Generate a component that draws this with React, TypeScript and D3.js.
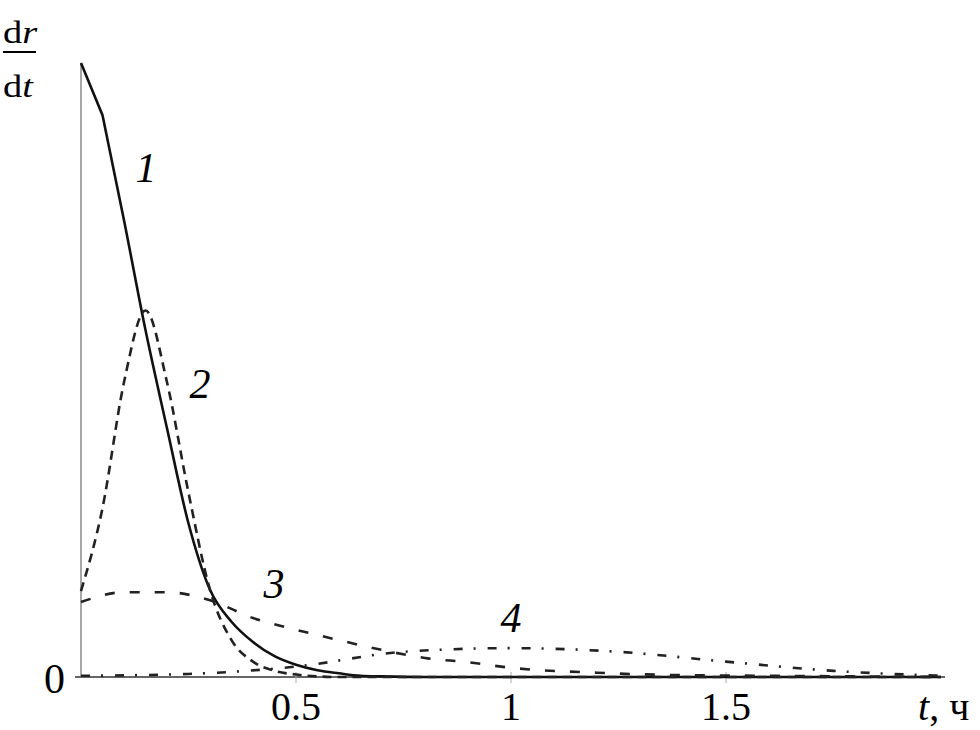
import React from "react";
import * as d3 from "d3";

// time grid (hours)
const tFine = [0, 0.05, 0.1, 0.15, 0.2, 0.25, 0.3, 0.35, 0.4, 0.45, 0.5, 0.55, 0.6, 0.65, 0.7, 0.8, 1.0, 1.5, 2.0];
const curve1 = [1.0, 0.915, 0.744, 0.565, 0.405, 0.25, 0.142, 0.09, 0.057, 0.034, 0.02, 0.011, 0.006, 0.002, 0.001, 0, 0, 0, 0];
const curve2 = [0.14, 0.275, 0.48, 0.597, 0.48, 0.3, 0.142, 0.06, 0.025, 0.01, 0.004, 0.001, 0, 0, 0, 0, 0, 0, 0];

const tMid = [0, 0.1, 0.2, 0.3, 0.4, 0.5, 0.6, 0.7, 0.8, 0.9, 1.0, 1.2, 1.4, 1.6, 1.8, 2.0];
const curve3 = [0.122, 0.138, 0.138, 0.125, 0.096, 0.077, 0.06, 0.044, 0.031, 0.024, 0.015, 0.007, 0.003, 0.002, 0.001, 0];

const tWide = [0, 0.25, 0.5, 0.75, 1.0, 1.25, 1.5, 1.75, 2.0];
const curve4 = [0.002, 0.005, 0.017, 0.041, 0.047, 0.041, 0.025, 0.01, 0.002];

const xTicks = [0.5, 1, 1.5];
const xTickLabels = ["0.5", "1", "1.5"];

const curveLabels = [
  { text: "1", t: 0.151, v: 0.806 },
  { text: "2", t: 0.277, v: 0.454 },
  { text: "3", t: 0.449, v: 0.129 },
  { text: "4", t: 1.0, v: 0.073 },
];

export default function App() {
  const W = 980, H = 730;
  const x = d3.scaleLinear().domain([0, 2]).range([81, 941]);
  const y = d3.scaleLinear().domain([0, 1]).range([677, 63]);
  const line = d3
    .line<[number, number]>()
    .x((d) => x(d[0]))
    .y((d) => y(d[1]))
    .curve(d3.curveMonotoneX);
  const linear = d3
    .line<[number, number]>()
    .x((d) => x(d[0]))
    .y((d) => y(d[1]));

  const p1 = tFine.map((t, i) => [t, curve1[i]] as [number, number]);
  const p2 = tFine.map((t, i) => [t, curve2[i]] as [number, number]);
  const p3 = tMid.map((t, i) => [t, curve3[i]] as [number, number]);
  const p4 = tWide.map((t, i) => [t, curve4[i]] as [number, number]);

  const serif = "'Liberation Serif', 'Times New Roman', serif";

  return (
    <svg
      width={W}
      height={H}
      style={{ position: "absolute", left: 0, top: 0, background: "#fff" }}
      fontFamily={serif}
    >
      {/* axes */}
      <line x1={x(0)} x2={x(0)} y1={y(1)} y2={y(0)} stroke="#8a8a8a" strokeWidth={1.5} />
      <line x1={x(0) - 6} x2={x(2) + 4} y1={y(0)} y2={y(0)} stroke="#666" strokeWidth={2} />
      {xTicks.map((t, i) => (
        <g key={t}>
          <line x1={x(t)} x2={x(t)} y1={y(0) - 5} y2={y(0) + 6} stroke="#aaa" strokeWidth={1} />
          <text x={x(t)} y={720} textAnchor="middle" fontSize={40} fill="#000">
            {xTickLabels[i]}
          </text>
        </g>
      ))}
      <text x={65} y={693} textAnchor="end" fontSize={42} fill="#000">0</text>

      {/* curves */}
      <path d={linear(p1.slice(0, 2)) + (line(p1.slice(1)) || "").replace(/^M/, "L")} fill="none" stroke="#111" strokeWidth={2.6} />
      <path d={line(p2) || ""} fill="none" stroke="#222" strokeWidth={2.6} strokeDasharray="9,6" />
      <path d={line(p3) || ""} fill="none" stroke="#222" strokeWidth={2.6} strokeDasharray="10,15" />
      <path d={line(p4) || ""} fill="none" stroke="#222" strokeWidth={2.6} strokeDasharray="9,11,2,12" />

      {/* curve labels */}
      {curveLabels.map((c) => (
        <text key={c.text} x={x(c.t)} y={y(c.v)} textAnchor="middle" fontSize={42} fontStyle="italic" fill="#000">
          {c.text}
        </text>
      ))}

      {/* y label dr/dt */}
      <g transform="translate(3,0) scale(1.2,1)">
        <text x={0} y={43} fontSize={32} fill="#000">
          d<tspan fontStyle="italic">r</tspan>
        </text>
        <text x={0} y={97} fontSize={32} fill="#000">
          d<tspan fontStyle="italic">t</tspan>
        </text>
      </g>
      <line x1={3} x2={36} y1={52} y2={52} stroke="#000" strokeWidth={2.2} />

      {/* x label */}
      <text x={918} y={720} fontSize={40} fill="#000">
        <tspan fontStyle="italic">t</tspan>, ч
      </text>
    </svg>
  );
}
